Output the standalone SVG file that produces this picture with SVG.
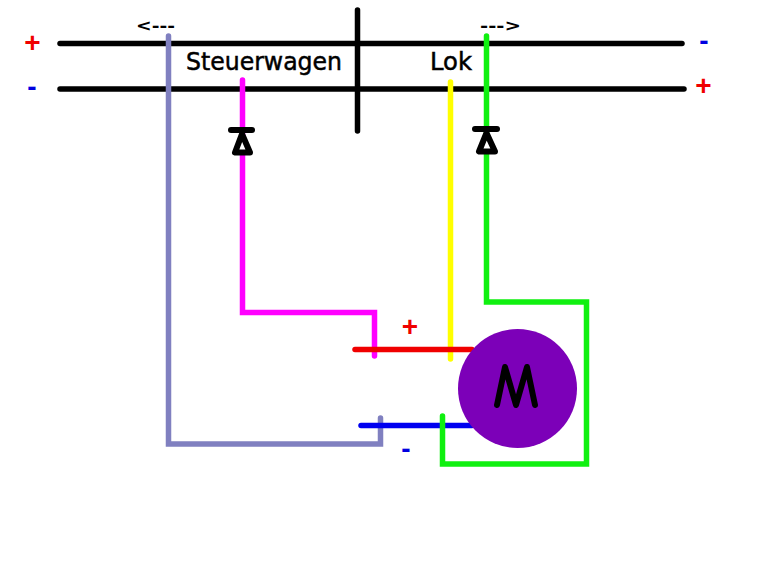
<svg xmlns="http://www.w3.org/2000/svg" width="772" height="562" viewBox="0 0 772 562">
<style>
.w{fill:none;stroke-width:5.500;stroke-linecap:round;stroke-linejoin:miter}
.k{stroke:#000}
.d{fill:#fff;stroke:#000;stroke-width:6;stroke-linejoin:round;stroke-linecap:round}
text{font-family:"DejaVu Sans",sans-serif}
.l{font-size:24px;fill:#000;stroke:#000;stroke-width:.5}
.a{font-size:15px;font-weight:bold;fill:#000}
.s{font-family:"Liberation Sans",sans-serif;font-size:28px;font-weight:bold;text-anchor:middle}
.r{fill:#f00000}.b{fill:#0000e0}
</style>
<rect width="772" height="562" fill="#fff"/>
<g id="rails">
<path class="w k" d="M60 43.500H682"/>
<path class="w k" d="M60 89H684"/>
<path class="w k" d="M357.500 10V131"/>
</g>
<g id="connectors">
<path class="w" stroke="#8080c0" d="M168.500 36V444H380.500V418"/>
<path class="w" stroke="#ff00ff" d="M242.500 80V312.500H374.500V356"/>
<path class="w" stroke="#ffff00" d="M450.500 82V359"/>
<path class="w" stroke="#f00000" d="M355 349.500H472"/>
<path class="w" stroke="#0000f0" d="M361 425.500H472"/>
<path class="w" stroke="#10f010" d="M486.500 36V302H586.500V464H442.500V416"/>
</g>
<g id="diode-steuerwagen">
<path class="d" d="M231 130H252"/>
<path class="d" d="M242 134L235 152.500H250Z"/>
</g>
<g id="diode-lok">
<path class="d" d="M475 129H497"/>
<path class="d" d="M486.500 133L479 151.500H495Z"/>
</g>
<g id="motor">
<circle cx="517.500" cy="388.500" r="59.500" fill="#7c00b8"/>
<path d="M497 405L505 367L516 405L527 367L535 405" fill="none" stroke="#000" stroke-width="6" stroke-linecap="round" stroke-linejoin="round"/>
</g>
<g id="labels">
<text class="l" x="186" y="70" textLength="156" lengthAdjust="spacingAndGlyphs">Steuerwagen</text>
<text class="l" x="430" y="70" textLength="42" lengthAdjust="spacingAndGlyphs">Lok</text>
<text class="a" x="136" y="31" textLength="39" lengthAdjust="spacingAndGlyphs">&lt;---</text>
<text class="a" x="480" y="31" textLength="41" lengthAdjust="spacingAndGlyphs">---&gt;</text>
<text class="s r" x="32.500" y="52">+</text>
<text class="s b" x="32" y="96">-</text>
<text class="s b" x="704" y="50">-</text>
<text class="s r" x="703.500" y="95">+</text>
<text class="s r" x="410" y="335.500">+</text>
<text class="s b" x="406" y="458">-</text>
</g>
</svg>
